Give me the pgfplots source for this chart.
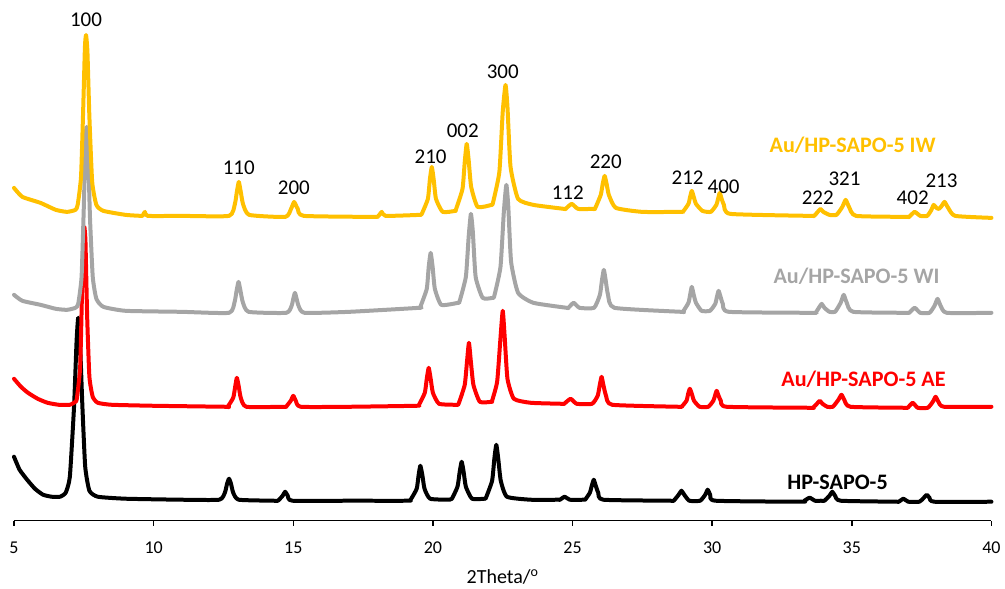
\documentclass[border=0pt]{standalone}
\usepackage{fontspec}
\setmainfont{Carlito}
\usepackage{pgfplots}
\pgfplotsset{compat=1.18}
\definecolor{cIW}{HTML}{FFC000}
\definecolor{cWI}{HTML}{A5A5A5}
\definecolor{cAE}{HTML}{FF0000}
\begin{document}
\begin{tikzpicture}
\begin{axis}[
  scale only axis,
  width=733.5pt, height=390.75pt,
  xmin=5, xmax=40, ymin=-4, ymax=517,
  axis x line*=bottom,
  hide y axis,
  clip=false,
  xtick={5,10,...,40},
  tick align=outside,
  major tick length=3.75pt,
  x axis line style={line width=1.1pt},
  xtick style={line width=1.1pt, black},
  /pgf/number format/assume math mode=true,
  xticklabel style={font=\fontsize{13.5}{16}\selectfont, yshift=-8.5pt},
  xlabel={2Theta/\textsuperscript{o}},
  xlabel style={font=\fontsize{15}{18}\selectfont, at={(axis description cs:0.5,0)}, anchor=center, yshift=-42pt},
  every axis plot/.append style={line width=3pt, line join=round, line cap=round, smooth, tension=0.3},
]
% HP-SAPO-5
\addplot[black] coordinates {
(5,60)(5.2,47)(5.47,37)(5.75,28)(6.04,22)(6.35,20)(6.65,20)(6.85,24)(7.0,40)(7.15,110)(7.24,175)(7.30,199)(7.37,170)(7.45,110)(7.55,50)(7.7,26)(8.0,20)(9,18)(11,17)(12.35,17)
(12.55,24)(12.63,33)(12.70,38)(12.77,33)(12.85,24)(13.05,17)(14.3,16)
(14.45,16)(14.62,21)(14.71,25)(14.80,21)(14.97,16)(17,16)(19.1,16)
(19.2,17)(19.42,28)(19.49,42)(19.55,51)(19.62,42)(19.7,28)(19.9,18)(20.6,17)
(20.68,18)(20.88,30)(20.96,45)(21.03,55)(21.10,45)(21.18,30)(21.4,18)(21.85,18)
(21.9,19)(22.12,36)(22.2,58)(22.27,72)(22.34,58)(22.43,36)(22.65,20)(23.5,17)(24.5,17)
(24.55,17)(24.72,20)(24.9,17)(25.4,17)
(25.45,17)(25.62,24)(25.69,31)(25.76,37)(25.83,31)(25.92,24)(26.1,17)(28.5,16)
(28.62,16)(28.8,22)(28.9,26)(29.0,22)(29.18,16)
(29.57,16)(29.75,22)(29.84,27)(29.93,22)(30.12,16)(33.2,15)
(33.3,16)(33.49,19)(33.68,16)(33.9,16)
(34.02,16)(34.2,21)(34.3,25)(34.4,21)(34.6,16)(36.6,15)
(36.68,15)(36.85,18)(37.02,15)
(37.42,15)(37.58,19)(37.68,22)(37.78,19)(37.95,15)(40,15)
};
% AE
\addplot[cAE] coordinates {
(5,138)(5.25,130)(5.5,124)(5.85,118)(6.2,114)(6.6,112)(7.0,112)(7.2,115)
(7.25,118)(7.37,150)(7.44,230)(7.49,280)(7.52,290)(7.56,275)(7.62,200)(7.70,140)(7.82,120)(8.0,114)(8.5,112)(10,111)(12.6,110)
(12.65,110)(12.85,119)(12.92,130)(12.98,139)(13.05,130)(13.12,119)(13.32,110)(14.7,110)
(14.74,110)(14.91,116)(15.0,121)(15.09,116)(15.27,110)(17,110)(19.4,111)
(19.5,112)(19.71,124)(19.78,138)(19.85,149)(19.92,138)(20.0,124)(20.22,113)(20.85,112)
(20.92,113)(21.14,132)(21.22,155)(21.29,174)(21.36,155)(21.45,132)(21.68,115)(22.1,115)
(22.12,116)(22.3,135)(22.41,175)(22.5,206)(22.57,180)(22.67,138)(22.9,118)(23.5,114)(24.6,113)
(24.7,113)(24.93,118)(25.15,113)
(25.7,113)(25.9,121)(25.97,131)(26.04,140)(26.11,131)(26.2,121)(26.42,112)(28.8,110)
(28.9,110)(29.08,116)(29.14,123)(29.2,128)(29.27,123)(29.35,116)(29.55,110)
(29.86,110)(30.04,116)(30.1,121)(30.16,126)(30.23,121)(30.31,116)(30.52,110)(33.5,109)
(33.6,109)(33.75,113)(33.85,116)(33.95,113)(34.12,110)
(34.32,110)(34.52,117)(34.63,122)(34.73,117)(34.95,110)(36.9,109)
(37.0,109)(37.18,114)(37.36,109)
(37.72,109)(37.9,115)(38.0,120)(38.1,115)(38.3,110)(40,110)
};
% WI
\addplot[cWI] coordinates {
(5,222)(5.3,216)(5.95,212)(6.5,208)(6.9,207)(7.2,209)
(7.3,213)(7.42,240)(7.5,310)(7.56,375)(7.6,390)(7.65,370)(7.72,300)(7.82,240)(7.95,218)(8.2,210)(9,206)(11,205)(12.7,204)
(12.9,215)(12.97,226)(13.04,235)(13.11,226)(13.19,215)(13.4,205)
(14.75,204)(14.94,211)(15.0,218)(15.06,224)(15.12,218)(15.19,211)(15.4,204)(17,205)(19.5,209)
(19.55,210)(19.78,228)(19.85,250)(19.92,264)(19.99,250)(20.07,228)(20.3,212)(20.9,214)
(20.95,215)(21.18,240)(21.28,280)(21.36,303)(21.43,285)(21.53,240)(21.78,219)(22.15,219)
(22.2,221)(22.42,250)(22.54,305)(22.63,332)(22.7,310)(22.8,255)(23.05,224)(23.6,214)(24.8,209)
(24.85,209)(25.04,214)(25.25,209)
(25.77,209)(25.98,222)(26.05,236)(26.12,247)(26.19,236)(26.27,222)(26.5,209)(28.9,205)
(28.95,205)(29.15,214)(29.21,222)(29.27,230)(29.34,222)(29.42,214)(29.62,206)
(29.92,206)(30.11,213)(30.17,220)(30.23,226)(30.3,220)(30.38,213)(30.6,205)(33.6,204)
(33.7,204)(33.82,209)(33.92,213)(34.02,209)(34.2,205)
(34.4,205)(34.6,214)(34.71,222)(34.82,214)(35.05,205)(36.95,204)
(37.05,204)(37.25,209)(37.45,204)
(37.78,204)(37.96,211)(38.07,218)(38.18,211)(38.4,204)(40,204)
};
% IW
\addplot[cIW] coordinates {
(5,329)(5.3,320)(5.95,314)(6.5,307)(6.9,305)(7.2,307)
(7.28,312)(7.4,340)(7.48,410)(7.54,470)(7.58,482)(7.63,465)(7.7,400)(7.8,335)(7.95,312)(8.2,306)(9,302)(9.55,301)
(9.6,301)(9.69,305)(9.78,301)(11,301)(12.7,301)
(12.91,313)(12.98,325)(13.05,335)(13.12,325)(13.2,313)(13.42,302)
(14.72,300)(14.92,308)(14.98,312)(15.03,315)(15.09,312)(15.16,308)(15.38,301)(17.9,300)
(18.05,301)(18.17,305)(18.3,301)(19.5,302)
(19.6,303)(19.82,318)(19.89,337)(19.96,350)(20.03,337)(20.11,318)(20.35,305)(20.8,306)
(20.82,307)(21.06,328)(21.14,355)(21.21,373)(21.28,357)(21.37,330)(21.6,310)(22.1,312)
(22.15,314)(22.38,345)(22.5,405)(22.6,432)(22.67,410)(22.78,350)(23.05,318)(23.6,312)(24.7,308)
(24.75,308)(24.97,313)(25.2,308)(25.75,308)
(25.8,308)(26.01,322)(26.08,333)(26.15,341)(26.22,333)(26.3,322)(26.55,309)(27.5,305)(28.9,305)
(28.95,305)(29.15,313)(29.21,320)(29.27,326)(29.34,320)(29.42,313)(29.65,306)
(29.95,305)(30.15,312)(30.21,318)(30.27,324)(30.34,318)(30.42,312)(30.65,303)(33.5,301)
(33.65,301)(33.78,305)(33.88,308)(33.98,305)(34.2,302)
(34.45,302)(34.66,310)(34.78,317)(34.9,310)(35.15,301)(36.95,300)
(37.05,300)(37.25,305)(37.45,301)
(37.7,301)(37.85,307)(37.93,312)(38.03,309)(38.12,308)(38.22,311)(38.32,315)(38.45,309)(38.7,301)(40,299)
};
% peak labels
\begin{scope}[every node/.style={font=\fontsize{15.75}{18}\selectfont, text=black, inner sep=0pt}]
\node at (axis cs:7.58,497) {100};
\node at (axis cs:13.05,349) {110};
\node at (axis cs:15.02,329) {200};
\node at (axis cs:19.92,360) {210};
\node at (axis cs:21.07,386) {002};
\node at (axis cs:22.50,445) {300};
\node at (axis cs:24.83,324) {112};
\node at (axis cs:26.19,355) {220};
\node at (axis cs:29.12,339) {212};
\node at (axis cs:30.41,330) {400};
\node at (axis cs:33.78,319) {222};
\node at (axis cs:34.74,338) {321};
\node at (axis cs:37.18,319) {402};
\node at (axis cs:38.21,336) {213};
\end{scope}
\begin{scope}[every node/.style={font=\fontsize{16.6}{19}\selectfont\bfseries, inner sep=0pt}]
\node[text=cIW] at (axis cs:35.03,372) {Au/HP-SAPO-5 IW};
\node[text=cWI] at (axis cs:35.17,241) {Au/HP-SAPO-5 WI};
\node[text=cAE] at (axis cs:35.42,138) {Au/HP-SAPO-5 AE};
\node[text=black] at (axis cs:34.49,34) {HP-SAPO-5};
\end{scope}
\end{axis}
\path ([xshift=-10.5pt,yshift=-50.25pt]current axis.south west) rectangle ([xshift=9.75pt]current axis.north east);
\end{tikzpicture}
\end{document}
